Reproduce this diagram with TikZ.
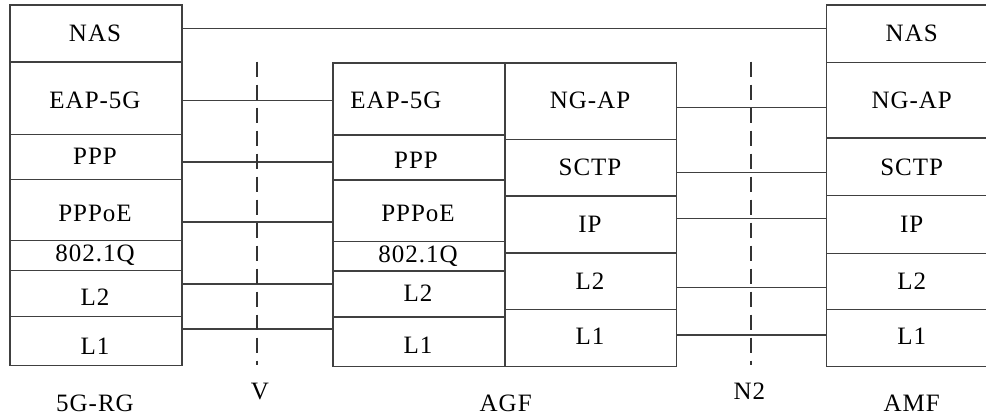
\documentclass[tikz,border=0pt]{standalone}
\usepackage{fontspec}
\setmainfont{Liberation Serif}[LetterSpace=4]
\begin{document}
\begin{tikzpicture}[x=1pt,y=-1pt,
  layer/.style={draw=black!75, line width=1.5pt, rectangle, inner sep=0pt, anchor=north west},
  lbl/.style={anchor=base, inner sep=0pt, font=\fontsize{25}{28}\selectfont},
  link/.style={draw=black!75, line width=1.5pt},
  iface/.style={draw=black!80, line width=2.3pt, dash pattern=on 15pt off 8pt}]
\useasboundingbox (0,0) rectangle (986,419);
\clip (0,0) rectangle (986,419);
\fill[white] (0,0) rectangle (986,419);

% ---------- 5G-RG stack ----------
\node[layer, minimum width=172pt, minimum height=57pt] (rgNAS)  at (9,4.5)   {};
\node[layer, minimum width=172pt, minimum height=72.5pt] (rgEAP) at (9,61.5) {};
\node[layer, minimum width=172pt, minimum height=45pt] (rgPPP)  at (9,134)   {};
\node[layer, minimum width=172pt, minimum height=61pt] (rgPPPoE) at (9,179)  {};
\node[layer, minimum width=172pt, minimum height=30pt] (rgVLAN) at (9,240)   {};
\node[layer, minimum width=172pt, minimum height=46pt] (rgL2)   at (9,270)   {};
\node[layer, minimum width=172pt, minimum height=49pt] (rgL1)   at (9,316)   {};
\node[lbl] (tRgNAS)   at (95,41.7)  {NAS};
\node[lbl] (tRgEAP)   at (95,108.3) {EAP-5G};
\node[lbl] (tRgPPP)   at (95,165)   {PPP};
\node[lbl] (tRgPPPoE) at (95,221.7) {PPPoE};
\node[lbl] (tRgVLAN)  at (95,262)   {802.1Q};
\node[lbl] (tRgL2)    at (95,306)   {L2};
\node[lbl] (tRgL1)    at (95,354.3) {L1};

% ---------- AGF, access side ----------
\node[layer, minimum width=172pt, minimum height=72pt] (agEAP)   at (332.3,62.3)  {};
\node[layer, minimum width=172pt, minimum height=45pt] (agPPP)   at (332.3,134.3) {};
\node[layer, minimum width=172pt, minimum height=61.4pt] (agPPPoE) at (332.3,179.3) {};
\node[layer, minimum width=172pt, minimum height=29.6pt] (agVLAN) at (332.3,240.7) {};
\node[layer, minimum width=172pt, minimum height=46pt] (agL2)    at (332.3,270.3) {};
\node[layer, minimum width=172pt, minimum height=49.4pt] (agL1)  at (332.3,316.3) {};
\node[lbl] (tAgEAP)   at (396,109)   {EAP-5G};
\node[lbl] (tAgPPP)   at (416,168.3) {PPP};
\node[lbl] (tAgPPPoE) at (418,221.7) {PPPoE};
\node[lbl] (tAgVLAN)  at (418,262.7) {802.1Q};
\node[lbl] (tAgL2)    at (418,301.7) {L2};
\node[lbl] (tAgL1)    at (418,354)   {L1};

% ---------- AGF, core side ----------
\node[layer, minimum width=171.4pt, minimum height=76.4pt] (agNGAP) at (504.3,62.3)  {};
\node[layer, minimum width=171.4pt, minimum height=56.6pt] (agSCTP) at (504.3,138.7) {};
\node[layer, minimum width=171.4pt, minimum height=57pt]   (agIP)   at (504.3,195.3) {};
\node[layer, minimum width=171.4pt, minimum height=56.4pt] (agL2c)  at (504.3,252.3) {};
\node[layer, minimum width=171.4pt, minimum height=57pt]   (agL1c)  at (504.3,308.7) {};
\node[lbl] (tAgNGAP) at (590,108.3) {NG-AP};
\node[lbl] (tAgSCTP) at (590,176)   {SCTP};
\node[lbl] (tAgIP)   at (590,232.3) {IP};
\node[lbl] (tAgL2c)  at (590,290)   {L2};
\node[lbl] (tAgL1c)  at (590,345)   {L1};

% ---------- AMF stack ----------
\node[layer, minimum width=172pt, minimum height=57.2pt] (amNAS)  at (825.7,4.5)   {};
\node[layer, minimum width=172pt, minimum height=75.6pt] (amNGAP) at (825.7,61.7)  {};
\node[layer, minimum width=172pt, minimum height=57.7pt] (amSCTP) at (825.7,137.3) {};
\node[layer, minimum width=172pt, minimum height=57.7pt] (amIP)   at (825.7,195)   {};
\node[layer, minimum width=172pt, minimum height=56.3pt] (amL2)   at (825.7,252.7) {};
\node[layer, minimum width=172pt, minimum height=56.7pt] (amL1)   at (825.7,309)   {};
\node[lbl] (tAmNAS)  at (911.7,41.7) {NAS};
\node[lbl] (tAmNGAP) at (911.7,109)  {NG-AP};
\node[lbl] (tAmSCTP) at (911.7,176)  {SCTP};
\node[lbl] (tAmIP)   at (911.7,232.3) {IP};
\node[lbl] (tAmL2)   at (911.7,290)  {L2};
\node[lbl] (tAmL1)   at (911.7,345)  {L1};

% ---------- peer links ----------
\draw[link] (rgNAS.east |- 0,28.7)   -- (amNAS.west |- 0,28.7);
\draw[link] (rgEAP.east |- 0,100.7)  -- (agEAP.west |- 0,100.7);
\draw[link] (rgPPP.east |- 0,162)    -- (agPPP.west |- 0,162);
\draw[link] (rgPPPoE.east |- 0,222)  -- (agPPPoE.west |- 0,222);
\draw[link] (rgL2.east |- 0,284)     -- (agL2.west |- 0,284);
\draw[link] (rgL1.east |- 0,329)     -- (agL1.west |- 0,329);
\draw[link] (agNGAP.east |- 0,107.7) -- (amNGAP.west |- 0,107.7);
\draw[link] (agSCTP.east |- 0,172.3) -- (amSCTP.west |- 0,172.3);
\draw[link] (agIP.east |- 0,218.3)   -- (amIP.west |- 0,218.3);
\draw[link] (agL2c.east |- 0,287.3)  -- (amL2.west |- 0,287.3);
\draw[link] (agL1c.east |- 0,335)    -- (amL1.west |- 0,335);

% ---------- reference points ----------
\coordinate (vTop) at (256.7,61.7);
\coordinate (vBot) at (256.7,365);
\coordinate (nTop) at (750.7,61.7);
\coordinate (nBot) at (750.7,365);
\draw[iface] (vTop) -- (vBot);
\draw[iface] (nTop) -- (nBot);

% ---------- captions ----------
\node[lbl] (capRG)  at (95,411.7)    {5G-RG};
\node[lbl] (capV)   at (260,400)     {V};
\node[lbl] (capAGF) at (505.7,411.7) {AGF};
\node[lbl] (capN2)  at (749.3,400)   {N2};
\node[lbl] (capAMF) at (911.7,411.7) {AMF};
\end{tikzpicture}
\end{document}
